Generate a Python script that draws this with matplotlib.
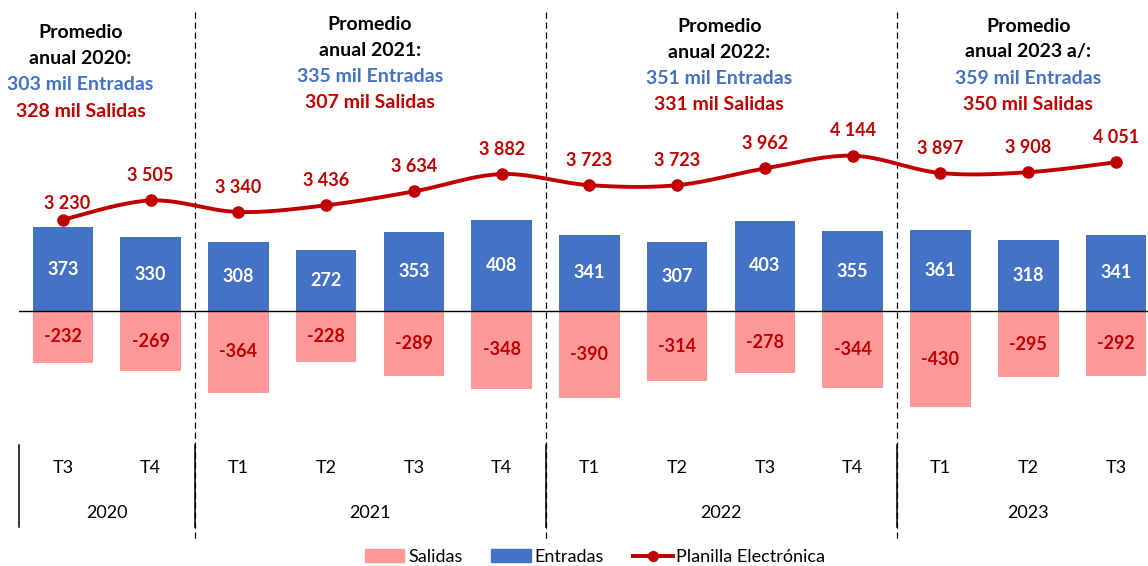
import numpy as np
import matplotlib
matplotlib.use("Agg")
import matplotlib.pyplot as plt
import matplotlib.transforms as mtransforms
from matplotlib.lines import Line2D
from matplotlib.patches import Patch

plt.rcParams["font.family"] = ["Lato", "DejaVu Sans"]

# data
quarters = ["T3", "T4", "T1", "T2", "T3", "T4", "T1", "T2", "T3", "T4", "T1", "T2", "T3"]
years = ["2020", "2021", "2022", "2023"]
year_counts = [2, 4, 4, 3]
entradas = [373, 330, 308, 272, 353, 408, 341, 307, 403, 355, 361, 318, 341]
salidas = [-232, -269, -364, -228, -289, -348, -390, -314, -278, -344, -430, -295, -292]
planilla = [3230, 3505, 3340, 3436, 3634, 3882, 3723, 3723, 3962, 4144, 3897, 3908, 4051]
prom_titles = ["anual 2020:", "anual 2021:", "anual 2022:", "anual 2023 a/:"]
prom_entradas = [303, 335, 351, 359]
prom_salidas = [328, 307, 331, 350]

BLUE = "#4472C4"
PINK = "#FF9999"
RED = "#C00000"

W, H = 1148, 566
fig = plt.figure(figsize=(W / 100, H / 100), dpi=100)
# axes spans pixel rows 0..540, columns 19..1148
ax = fig.add_axes([19 / W, 26 / H, 1 - 19 / W, 540 / H])
ax.set_xlim(-0.5, (W - 63) / 87.75)
ax.set_ylim(-(540 - 311) / 0.224, 311 / 0.224)
ax.axis("off")

x = np.arange(len(quarters))
ax.bar(x, entradas, width=0.69, color=BLUE, zorder=2)
ax.bar(x, salidas, width=0.69, color=PINK, zorder=2)
ax.axhline(0, color="black", lw=1, zorder=3)

for xi, e, s in zip(x, entradas, salidas):
    ax.text(xi, e / 2, str(e), ha="center", va="center", color="white",
            fontsize=13, fontweight="bold", zorder=4)
    ax.text(xi, s / 2, str(s), ha="center", va="center", color=RED,
            fontsize=13, fontweight="bold", zorder=4)

# secondary axis for the line
ax2 = ax.twinx()
ax2.set_ylim(6368.6 - 540 / 0.07, 6368.6)
ax2.axis("off")


def smooth(xs, ys, n=30):
    # excel-style smoothing (catmull-rom via bezier)
    p = np.column_stack([xs, ys]).astype(float)
    p = np.vstack([p[0], p, p[-1]])
    out = []
    for i in range(1, len(p) - 2):
        p0, p1, p2, p3 = p[i - 1], p[i], p[i + 1], p[i + 2]
        c1 = p1 + (p2 - p0) / 6
        c2 = p2 - (p3 - p1) / 6
        t = np.linspace(0, 1, n)[:, None]
        seg = (1 - t) ** 3 * p1 + 3 * (1 - t) ** 2 * t * c1 + 3 * (1 - t) * t ** 2 * c2 + t ** 3 * p2
        out.append(seg)
    out = np.vstack(out)
    return out[:, 0], out[:, 1]


sx, sy = smooth(x, planilla)
ax2.plot(sx, sy, color=RED, lw=2.8, zorder=5)
ax2.plot(x, planilla, "o", color=RED, ms=8, zorder=6)
for xi, v in zip(x, planilla):
    off = 12 if xi == 0 else 18
    ax2.annotate(f"{v:,}".replace(",", " "), (xi, v), xytext=(3 if xi == 0 else 0, off),
                 textcoords="offset points", ha="center", va="center",
                 color=RED, fontsize=13, fontweight="bold")

# year separators and category labels
trans = mtransforms.blended_transform_factory(ax.transData, fig.transFigure)
bounds = np.cumsum([0] + year_counts) - 0.5
for b in bounds[1:-1]:
    ax.plot([b, b], [1 - 12 / H, 1 - 540 / H], transform=trans, color="black",
            lw=0.9, ls=(0, (5, 3)), clip_on=False)
for b in bounds[:-1]:
    ax.plot([b, b], [1 - 445 / H, 1 - 527 / H], transform=trans, color="black",
            lw=1.1, clip_on=False)

for xi, q in zip(x, quarters):
    ax.text(xi, 1 - 468 / H, q, transform=trans, ha="center", va="center", fontsize=13)
for i, yr in enumerate(years):
    mid = (bounds[i] + min(bounds[i + 1], len(quarters) - 0.5)) / 2
    ax.text(mid, 1 - 513 / H, yr, transform=trans, ha="center", va="center", fontsize=13)

# annual averages
prom_x = [0.2, 3.5, 7.48, 11.0]
prom_y0 = [33, 25, 26, 26]
for px, py, t, e, s in zip(prom_x, prom_y0, prom_titles, prom_entradas, prom_salidas):
    lines = [("Promedio", "black"), (t, "black"),
             (f"{e} mil Entradas", BLUE), (f"{s} mil Salidas", RED)]
    for k, (txt, col) in enumerate(lines):
        ax.text(px, 1 - (py + 26 * k) / H, txt, transform=trans, ha="center",
                va="center", fontsize=14, fontweight="bold", color=col)

handles = [Patch(color=PINK, label="Salidas"), Patch(color=BLUE, label="Entradas"),
           Line2D([], [], color=RED, lw=2.8, marker="o", ms=7, label="Planilla Electrónica")]
fig.legend(handles=handles, loc="center", bbox_to_anchor=(595 / W, 1 - 557 / H), ncol=3,
           frameon=False, fontsize=13, handlelength=2.2, handletextpad=0.2,
           columnspacing=1.6)

fig.savefig("out.png", dpi=100)
